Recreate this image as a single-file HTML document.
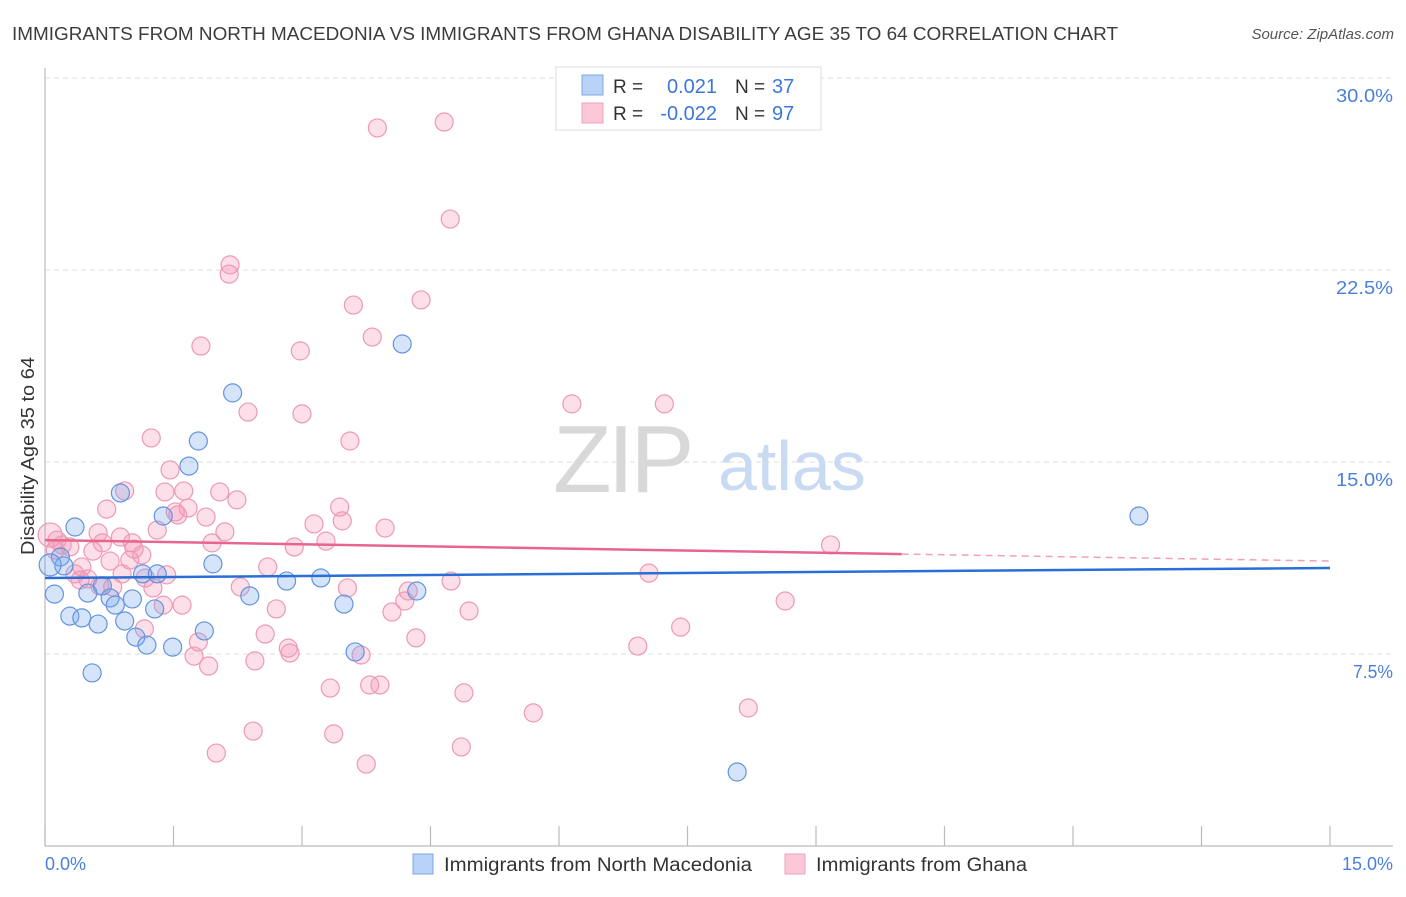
<!DOCTYPE html>
<html><head><meta charset="utf-8">
<style>
body{margin:0;background:#fff;font-family:"Liberation Sans",sans-serif;}
svg text{font-family:"Liberation Sans",sans-serif;}
</style></head>
<body>
<svg id="chart" width="1406" height="892" viewBox="0 0 1406 892" xmlns="http://www.w3.org/2000/svg">
<text x="12" y="40" font-size="18" fill="#3c3c3c" textLength="1106" lengthAdjust="spacingAndGlyphs">IMMIGRANTS FROM NORTH MACEDONIA VS IMMIGRANTS FROM GHANA DISABILITY AGE 35 TO 64 CORRELATION CHART</text>
<text x="1394" y="39" font-size="15" fill="#555" font-style="italic" text-anchor="end">Source: ZipAtlas.com</text>
<g id="grid"></g>
<g>
<text x="553" y="492" font-size="96" fill="#d8d8d8" font-family="Liberation Serif, serif" letter-spacing="-4">ZIP</text>
<text x="718" y="490" font-size="70" fill="#c9daf3">atlas</text>
</g>
<line x1="45" y1="68" x2="45" y2="846" stroke="#bbb" stroke-width="1.2"/>
<line x1="45" y1="846" x2="1393" y2="846" stroke="#bbb" stroke-width="1.2"/>
<g id="xticks"></g>
<g id="ylabels"></g>
<text transform="translate(34,456) rotate(-90)" font-size="18" fill="#333" text-anchor="middle" textLength="198" lengthAdjust="spacingAndGlyphs">Disability Age 35 to 64</text>
<text x="45" y="870" font-size="18" fill="#4a7fdc">0.0%</text>
<text x="1393" y="870" font-size="18" fill="#4a7fdc" text-anchor="end">15.0%</text>
<g id="pinkpts"></g>
<g id="bluepts"></g>
<g id="lines"></g>
<g>
<rect x="556" y="67" width="265" height="63" fill="#fff" stroke="#ddd"/>
<rect x="582" y="75" width="21" height="20" fill="#b9d3f7" stroke="#7aa7e6"/>
<rect x="582" y="103" width="21" height="20" fill="#fcc8d8" stroke="#eea3bb"/>
<text x="613" y="93" font-size="19" fill="#333">R =</text>
<text x="717" y="93" font-size="20" fill="#3d78d8" text-anchor="end">0.021</text>
<text x="735" y="93" font-size="19" fill="#333">N =</text>
<text x="772" y="93" font-size="20" fill="#3d78d8">37</text>
<text x="613" y="120" font-size="19" fill="#333">R =</text>
<text x="717" y="120" font-size="20" fill="#3d78d8" text-anchor="end">-0.022</text>
<text x="735" y="120" font-size="19" fill="#333">N =</text>
<text x="772" y="120" font-size="20" fill="#3d78d8">97</text>
</g>
<g>
<rect x="413" y="854" width="20" height="20" fill="#b9d3f7" stroke="#7aa7e6"/>
<text x="444" y="871" font-size="19" fill="#333" textLength="308" lengthAdjust="spacingAndGlyphs">Immigrants from North Macedonia</text>
</g>
<g>
<rect x="785" y="854" width="20" height="20" fill="#fcc8d8" stroke="#eea3bb"/>
<text x="816" y="871" font-size="19" fill="#333" textLength="211" lengthAdjust="spacingAndGlyphs">Immigrants from Ghana</text>
</g>
</svg>
<script>
const yTicks = [7.5, 15, 22.5, 30];
const yTickLabels = ["7.5%", "15.0%", "22.5%", "30.0%"];
const xTicks = [0,1.5,3,4.5,6,7.5,9,10.5,12,13.5,15];
const blueX = [0.11,0.18,0.22,0.35,0.29,0.43,0.50,0.55,0.62,0.67,0.76,0.82,0.88,0.93,1.02,1.06,1.14,1.19,1.28,1.31,1.38,1.49,1.68,1.79,1.86,1.96,2.19,2.39,2.82,3.22,3.49,3.62,4.17,4.34,8.08,12.77,0.06];
const blueY = [9.84,11.29,10.94,12.46,8.98,8.91,9.88,6.76,8.67,10.16,9.69,9.41,13.79,8.79,9.65,8.16,10.63,7.85,9.26,10.63,12.89,7.77,14.84,15.82,8.40,11.02,17.70,9.77,10.35,10.47,9.45,7.58,19.61,9.96,2.89,12.89,10.98];
const pinkX = [3.88,4.66,4.73,2.16,2.15,3.60,4.39,3.82,1.82,2.98,6.15,7.23,2.37,3.00,1.24,3.56,1.46,1.40,1.62,2.04,2.24,0.93,0.72,1.67,1.52,1.55,1.88,3.44,3.14,3.47,3.97,1.31,0.62,0.88,0.67,1.02,2.10,1.95,2.91,3.28,9.17,0.56,1.04,0.14,0.06,0.20,0.29,0.76,1.13,0.43,2.60,0.35,0.41,0.50,0.90,1.17,4.74,7.05,2.28,3.53,4.24,4.20,1.26,1.38,1.60,2.70,4.05,4.95,8.64,1.16,1.79,2.57,4.33,2.84,2.86,6.92,7.42,3.69,1.74,1.91,2.45,3.33,3.79,3.91,4.89,5.70,8.21,2.43,3.37,2.00,4.86,3.75,0.64,0.79,1.42,0.99,0.12];
const pinkY = [28.05,28.28,24.49,22.70,22.34,21.13,21.33,19.88,19.53,19.34,17.27,17.27,16.95,16.88,15.94,15.82,14.69,13.83,13.87,13.83,13.52,13.87,13.16,13.20,13.05,12.93,12.85,13.24,12.58,12.70,12.42,12.34,12.23,12.07,11.84,11.84,12.27,11.84,11.68,11.91,11.76,11.52,11.60,11.95,12.15,11.76,11.68,11.13,11.37,10.90,10.90,10.63,10.39,10.43,10.63,10.47,10.35,10.66,10.12,10.08,9.96,9.57,10.08,9.41,9.41,9.26,9.14,9.18,9.57,8.48,7.97,8.28,8.13,7.73,7.54,7.81,8.55,7.46,7.42,7.03,7.23,6.17,6.29,6.29,5.98,5.20,5.39,4.49,4.38,3.63,3.87,3.20,10.16,10.12,10.59,11.17,11.56];
const blueTrend = [10.47, 10.86];
const pinkTrend = [11.95, 11.13];
const pinkSolidEnd = 10.0;

const NS = "http://www.w3.org/2000/svg";
function sx(v){ return 45 + v * (1285/15); }
function sy(v){ return 846 - v * 25.6; }
function mk(tag, attrs, parent){ const e=document.createElementNS(NS,tag); for(const k in attrs) e.setAttribute(k,attrs[k]); parent.appendChild(e); return e; }

const grid=document.getElementById('grid');
const yl=document.getElementById('ylabels');
yTicks.forEach((t,i)=>{
  const l=mk('line',{x1:45,x2:1393,y1:sy(t),y2:sy(t),stroke:'#ddd','stroke-dasharray':'5,4'},grid);
  
  
  const w = yTickLabels[i].length===4 ? 40 : 57;
  const tx=mk('text',{x:1393,y:sy(t)+24,'font-size':18.5,fill:'#4a7fdc','text-anchor':'end',textLength:w,lengthAdjust:'spacingAndGlyphs'},yl);
  tx.textContent=yTickLabels[i];
  
  
});
const xt=document.getElementById('xticks');
xTicks.forEach(t=>{
  const l=mk('line',{x1:sx(t),x2:sx(t),y1:826,y2:846,stroke:'#bbb','stroke-width':1.2},xt);
  
  
});
const pp=document.getElementById('pinkpts');
pinkX.forEach((x,i)=>{
  const r = (i===44)?12:9;
  const c=mk('circle',{cx:sx(x),cy:sy(pinkY[i]),r:r,fill:'rgba(244,150,180,0.3)',stroke:'#ec9ab4','stroke-width':1.2},pp);
  
  
});
const bp=document.getElementById('bluepts');
blueX.forEach((x,i)=>{
  const r = (i===36)?11:9;
  const c=mk('circle',{cx:sx(x),cy:sy(blueY[i]),r:r,fill:'rgba(120,165,235,0.3)',stroke:'#6394e0','stroke-width':1.2},bp);
  
  
});
const lg=document.getElementById('lines');
const pEnd = pinkTrend[0]+(pinkTrend[1]-pinkTrend[0])*pinkSolidEnd/15;
const pd=mk('line',{x1:sx(pinkSolidEnd),y1:sy(pEnd),x2:sx(15),y2:sy(pinkTrend[1]),stroke:'#f0a0b8','stroke-width':1.5,'stroke-dasharray':'7,5'},lg);


const ps=mk('line',{x1:sx(0),y1:sy(pinkTrend[0]),x2:sx(pinkSolidEnd),y2:sy(pEnd),stroke:'#e8658f','stroke-width':2.5},lg);


const bl=mk('line',{x1:sx(0),y1:sy(blueTrend[0]),x2:sx(15),y2:sy(blueTrend[1]),stroke:'#2a6fd6','stroke-width':2.5},lg);


</script>
</body></html>
